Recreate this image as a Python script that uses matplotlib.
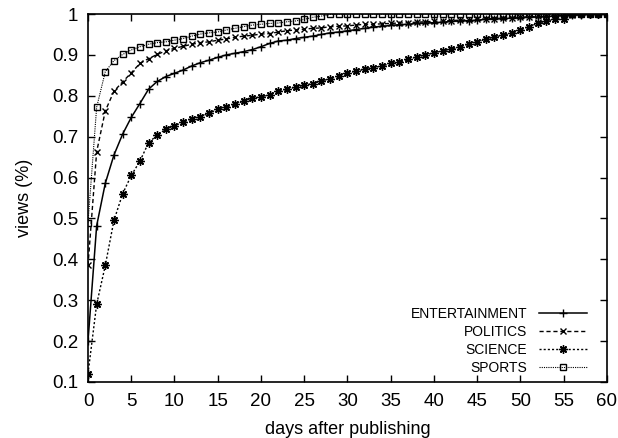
import matplotlib
matplotlib.use("Agg")
import matplotlib.pyplot as plt

plt.rcParams['font.family'] = ['Liberation Sans', 'DejaVu Sans']

# share of total views reached after each day (0..60)
days = list(range(61))

entertainment = [0.20, 0.482, 0.586, 0.655, 0.706, 0.747, 0.781, 0.816, 0.835, 0.847,
                 0.855, 0.863, 0.873, 0.881, 0.887, 0.894, 0.900, 0.904, 0.908, 0.913,
                 0.920, 0.928, 0.934, 0.936, 0.940, 0.943, 0.946, 0.950, 0.954, 0.956,
                 0.959, 0.962, 0.965, 0.968, 0.970, 0.972, 0.974, 0.975, 0.977, 0.978,
                 0.979, 0.980, 0.982, 0.983, 0.984, 0.985, 0.987, 0.988, 0.989, 0.990,
                 0.991, 0.992, 0.993, 0.994, 0.995, 0.996, 0.997, 0.998, 0.999, 1.0, 1.0]
politics = [0.385, 0.663, 0.763, 0.811, 0.834, 0.856, 0.879, 0.891, 0.901, 0.910,
            0.916, 0.921, 0.926, 0.930, 0.932, 0.936, 0.939, 0.943, 0.946, 0.948,
            0.951, 0.952, 0.956, 0.959, 0.961, 0.963, 0.965, 0.966, 0.969, 0.970,
            0.971, 0.973, 0.975, 0.975, 0.976, 0.977, 0.978, 0.979, 0.980, 0.981,
            0.982, 0.983, 0.984, 0.985, 0.986, 0.987, 0.988, 0.989, 0.990, 0.991,
            0.992, 0.993, 0.994, 0.995, 0.996, 0.997, 0.998, 0.999, 1.0, 1.0, 1.0]
science = [0.12, 0.29, 0.385, 0.495, 0.56, 0.605, 0.64, 0.685, 0.704, 0.718,
           0.726, 0.736, 0.743, 0.749, 0.757, 0.767, 0.773, 0.779, 0.787, 0.794,
           0.798, 0.802, 0.811, 0.816, 0.821, 0.826, 0.830, 0.836, 0.842, 0.848,
           0.856, 0.860, 0.865, 0.869, 0.873, 0.879, 0.882, 0.889, 0.895, 0.900,
           0.905, 0.910, 0.914, 0.920, 0.926, 0.932, 0.938, 0.944, 0.948, 0.953,
           0.961, 0.969, 0.977, 0.983, 0.987, 0.989, 1.0, 1.0, 1.0, 1.0, 1.0]
sports = [0.49, 0.772, 0.859, 0.886, 0.901, 0.912, 0.920, 0.926, 0.930, 0.932,
          0.936, 0.940, 0.946, 0.951, 0.954, 0.956, 0.961, 0.965, 0.969, 0.973,
          0.975, 0.977, 0.978, 0.981, 0.983, 0.987, 0.992, 0.995, 0.999, 1.0,
          1.0, 1.0, 1.0, 1.0, 1.0, 1.0, 1.0, 1.0, 1.0, 1.0,
          1.0, 1.0, 1.0, 1.0, 1.0, 1.0, 1.0, 1.0, 1.0, 1.0,
          1.0, 1.0, 1.0, 1.0, 1.0, 1.0, 1.0, 1.0, 1.0, 1.0, 1.0]

fig = plt.figure(figsize=(6.18, 4.38), dpi=100)
ax = fig.add_axes([0.1424, 0.128, 0.8396, 0.84])

ax.plot(days, entertainment, color='black', lw=1.1, ls='-', marker='+', ms=6, mew=1.0,
        label='ENTERTAINMENT')
ax.plot(days, politics, color='black', lw=1.0, ls=(0, (3, 2)), marker='x', ms=5, mew=1.0,
        label='POLITICS')
ax.plot(days, science, color='black', lw=1.0, ls=(0, (1.5, 1.5)), marker=(8, 2, 0), ms=6,
        mew=1.0, label='SCIENCE')
ax.plot(days, sports, color='black', lw=0.8, ls=(0, (1, 1)), marker='s', ms=5, mew=1.0,
        mfc='none', label='SPORTS')

ax.set_xlim(0, 60)
ax.set_ylim(0.1, 1.0)
ax.set_xticks(range(0, 61, 5))
ax.set_yticks([0.1, 0.2, 0.3, 0.4, 0.5, 0.6, 0.7, 0.8, 0.9, 1.0])
ax.set_yticklabels(['0.1', '0.2', '0.3', '0.4', '0.5', '0.6', '0.7', '0.8', '0.9', '1'])
ax.tick_params(direction='in', top=True, right=True, length=5, width=1, labelsize=13.5)
ax.tick_params(axis='x', pad=8)
ax.tick_params(axis='y', pad=7)
for s in ax.spines.values():
    s.set_linewidth(1.2)

ax.set_xlabel('days after publishing', fontsize=13, labelpad=8)
ax.set_ylabel('views (%)', fontsize=13, labelpad=14)

ax.legend(loc='lower right', bbox_to_anchor=(0.962, 0.02), frameon=False, markerfirst=False,
          fontsize=10, handlelength=3.5, labelspacing=0.28, borderaxespad=0, borderpad=0)

fig.savefig('out.png', dpi=100)
